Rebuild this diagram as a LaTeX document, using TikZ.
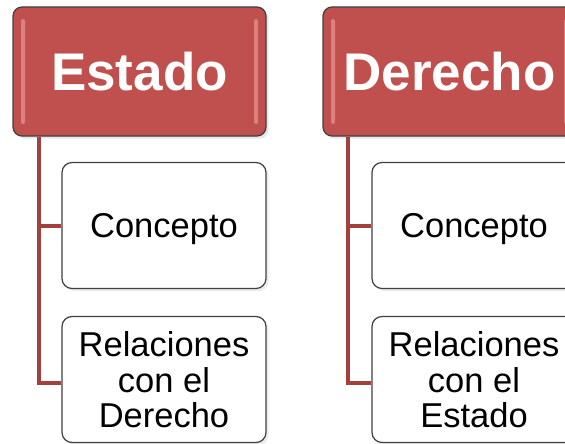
\documentclass[tikz,border=0pt]{standalone}
\usepackage{fontspec}
\setmainfont{Liberation Sans}
\usetikzlibrary{shadows}
\definecolor{headred}{HTML}{C0504D}
\definecolor{linkred}{HTML}{A3403E}
\definecolor{edgegray}{HTML}{404040}
\definecolor{glosspink}{HTML}{EFA3A1}
\begin{document}
\begin{tikzpicture}
  [x=1pt,y=1pt,node distance=154pt,
   head/.style ={draw=edgegray,line width=1.2pt,fill=headred,rounded corners=9pt,
     minimum width=253pt,minimum height=129pt,text=white,
     font=\bfseries\fontsize{53}{60}\selectfont,drop shadow={opacity=0.2},
     path picture={
       \fill[glosspink,opacity=0.6,rounded corners=2pt]
         ([xshift=8pt,yshift=-12pt]path picture bounding box.north west) rectangle ++(4pt,-105pt);
       \fill[glosspink,opacity=0.6,rounded corners=2pt]
         ([xshift=-8pt,yshift=-12pt]path picture bounding box.north east) rectangle ++(-4pt,-105pt);}},
   sub/.style ={draw=edgegray,line width=1.2pt,fill=white,rounded corners=10pt,
     minimum width=204pt,minimum height=126pt,align=center,text depth=0pt,
     font=\fontsize{34.5}{35.5}\selectfont,drop shadow={opacity=0.15}},
   link/.style ={linkred,line width=4pt}]
  \useasboundingbox (0,0) rectangle (565,-444);
  % columnas
  \node[head] (estado) at (139.5,-71.5) {Estado};
  \node[head] (derecho)[right of = estado, node distance=310pt] {Derecho};
  \node[sub] (concE)[below of = estado, xshift=24.5pt] {Concepto};
  \node[sub] (relE)[below of = concE] {Relaciones\\con el\\Derecho};
  \node[sub] (concD)[right of = concE, node distance=310pt] {Concepto};
  \node[sub] (relD)[below of = concD] {Relaciones\\con el\\Estado};
  \draw[link] ([xshift=27pt]estado.south west) |- (concE.west);
  \draw[link] ([xshift=27pt]estado.south west) |- ([yshift=-3pt]relE.west);
  \draw[link] ([xshift=26pt]derecho.south west) |- (concD.west);
  \draw[link] ([xshift=26pt]derecho.south west) |- ([yshift=-3pt]relD.west);
\end{tikzpicture}
\end{document}
